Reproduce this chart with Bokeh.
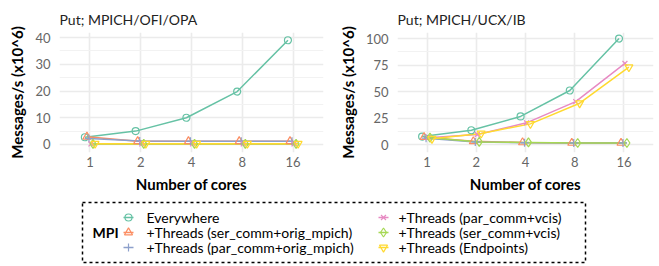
from bokeh.plotting import figure
from bokeh.layouts import column, row
from bokeh.models import Range1d, FixedTicker
from bokeh.core.properties import value
from bokeh.embed import file_html
from bokeh.resources import INLINE

# ---------------- data ----------------
cores = ["1", "2", "4", "8", "16"]
series_names = [
    "Everywhere",
    "+Threads (ser_comm+orig_mpich)",
    "+Threads (par_comm+orig_mpich)",
    "+Threads (par_comm+vcis)",
    "+Threads (ser_comm+vcis)",
    "+Threads (Endpoints)",
]
colors = ["#66C2A5", "#FC8D62", "#8DA0CB", "#E78AC3", "#A6D854", "#FFD92F"]
markers = ["circle", "triangle", "cross", "x", "diamond", "inverted_triangle"]
marker_sizes = [7, 8, 8, 7, 9, 8]

left_title = "Put; MPICH/OFI/OPA"
left_everywhere = [2.7, 5.0, 10.0, 19.8, 39.0]
left_ser_orig = [2.9, 1.2, 1.2, 1.2, 1.2]
left_par_orig = [2.2, 1.3, 1.2, 1.2, 1.2]
left_par_vcis = [0.2, 0.2, 0.2, 0.2, 0.2]
left_ser_vcis = [0.2, 0.2, 0.2, 0.2, 0.2]
left_endpoints = [0.3, 0.3, 0.3, 0.3, 0.3]
left_yticks = [0, 10, 20, 30, 40]
left_yminor = [5, 15, 25, 35]

right_title = "Put; MPICH/UCX/IB"
right_everywhere = [7.5, 13.5, 26.5, 51.0, 100.0]
right_ser_orig = [7.0, 3.0, 2.0, 1.5, 1.5]
right_par_orig = [6.0, 2.5, 1.8, 1.5, 1.5]
right_par_vcis = [6.5, 9.5, 20.5, 40.5, 76.5]
right_ser_vcis = [6.5, 2.5, 2.0, 1.5, 1.5]
right_endpoints = [5.5, 10.5, 19.5, 39.0, 73.0]
right_yticks = [0, 25, 50, 75, 100]
right_yminor = [12.5, 37.5, 62.5, 87.5]

x_label = "Number of cores"
y_label = "Messages/s (x10^6)"
legend_title = "MPI"

FONT = "Lato"
DODGE = 0.04
TOP_H = 196


def make_panel(title, series, yticks, yminor, yrange, width, left, right):
    p = figure(width=width, height=TOP_H, output_backend="svg", toolbar_location=None,
               x_range=Range1d(0.4, 5.6), y_range=Range1d(*yrange),
               min_border_left=left, min_border_right=right,
               min_border_top=32, min_border_bottom=44)
    p.outline_line_color = None
    p.background_fill_color = "white"
    p.border_fill_color = "white"
    p.title.text = title
    p.title.text_font = FONT
    p.title.text_font_size = "14px"
    p.title.text_font_style = "normal"
    p.title.text_color = "#222222"
    p.title.align = "left"
    p.title.standoff = 9

    xs = list(range(1, len(cores) + 1))
    p.xaxis.ticker = FixedTicker(ticks=xs)
    p.xaxis.major_label_overrides = {x: c for x, c in zip(xs, cores)}
    p.yaxis.ticker = FixedTicker(ticks=yticks, minor_ticks=yminor)
    for ax in (p.xaxis, p.yaxis):
        ax.axis_line_color = None
        ax.major_tick_line_color = None
        ax.minor_tick_line_color = None
        ax.major_tick_out = 0
        ax.major_tick_in = 0
        ax.minor_tick_out = 0
        ax.major_label_text_font = FONT
        ax.major_label_text_font_size = "13px"
        ax.major_label_text_color = "#666666"
        ax.axis_label_text_font = FONT
        ax.axis_label_text_font_size = "15px"
        ax.axis_label_text_font_style = "bold"
        ax.axis_label_text_color = "black"
    p.xaxis.axis_label = x_label
    p.yaxis.axis_label = y_label
    p.xaxis.major_label_standoff = 4
    p.yaxis.major_label_standoff = 9
    p.xaxis.axis_label_standoff = 5
    p.yaxis.axis_label_standoff = 6

    p.xgrid.grid_line_color = "#EBEBEB"
    p.xgrid.grid_line_width = 1.6
    p.ygrid.grid_line_color = "#EBEBEB"
    p.ygrid.grid_line_width = 1.6
    p.ygrid.minor_grid_line_color = "#F2F2F2"
    p.ygrid.minor_grid_line_width = 1.0

    n = len(series)
    dodged = []
    for i, ys in enumerate(series):
        off = (i - (n - 1) / 2) * DODGE
        dodged.append([x + off for x in xs])
    for i, ys in enumerate(series):
        p.line(dodged[i], ys, line_color=colors[i], line_width=1.5)
    for i, ys in enumerate(series):
        p.scatter(dodged[i], ys, marker=markers[i], size=marker_sizes[i],
                  fill_color=None, line_color=colors[i], line_width=1.2)
    return p


p1 = make_panel(left_title,
                [left_everywhere, left_ser_orig, left_par_orig, left_par_vcis, left_ser_vcis, left_endpoints],
                left_yticks, left_yminor, (-3.0, 41.9), 330, 59, 7)
p2 = make_panel(right_title,
                [right_everywhere, right_ser_orig, right_par_orig, right_par_vcis, right_ser_vcis, right_endpoints],
                right_yticks, right_yminor, (-7.5, 105.7), 329, 67, 6)

# ---------------- legend ----------------
LW, LH = 659, 70
leg = figure(width=LW, height=LH, output_backend="svg", toolbar_location=None,
             x_range=Range1d(0, LW), y_range=Range1d(LH, 0), min_border=0)
leg.axis.visible = False
leg.grid.visible = False
leg.outline_line_color = None

box_l, box_r, box_t, box_b = 82, 585, 6, 66
leg.quad(left=[box_l], right=[box_r], top=[box_t], bottom=[box_b],
         fill_color=None, line_color="black", line_width=1.5, line_dash="3 3")
row_y = [21, 36, 51]
col_sym_x = [128, 383]
col_txt_x = [146, 398]
leg.text([92], [row_y[1]], text=[legend_title], text_font=value(FONT), text_font_size="14px",
         text_font_style="bold", text_baseline="middle", text_align="left", text_color="black")
for i, name in enumerate(series_names):
    c, r = divmod(i, 3)
    sx, sy = col_sym_x[c], row_y[r]
    leg.line([sx - 5, sx + 5], [sy, sy], line_color=colors[i], line_width=1.5)
    leg.scatter([sx], [sy], marker=markers[i], size=marker_sizes[i], fill_color=None,
                line_color=colors[i], line_width=1.2)
    leg.text([col_txt_x[c]], [sy], text=[name], text_font=value(FONT), text_font_size="14px",
             text_baseline="middle", text_align="left", text_color="black")

layout = column(row(p1, p2), leg)
open("out.html", "w").write(file_html(layout, INLINE))
